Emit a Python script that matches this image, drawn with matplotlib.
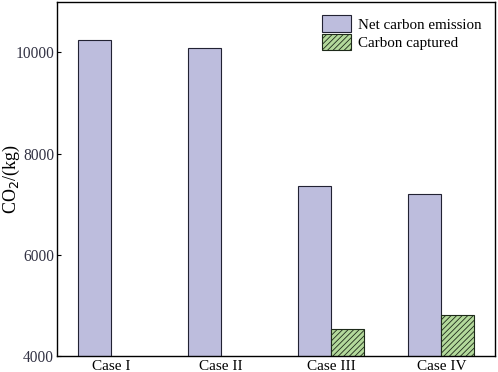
import matplotlib
matplotlib.use("Agg")
import matplotlib.pyplot as plt
import numpy as np

# Data
cases = ["Case I", "Case II", "Case III", "Case IV"]
net_emission = [10250, 10080, 7370, 7210]
captured = [0, 0, 4530, 4820]

plt.rcParams['font.family'] = ['Liberation Serif', 'DejaVu Serif']
plt.rcParams['hatch.color'] = '#2f4a2a'
plt.rcParams['hatch.linewidth'] = 0.6

fig = plt.figure(figsize=(4.98, 3.72), dpi=100)
ax = fig.add_axes([0.1145, 0.043, 0.88, 0.952])

x = np.arange(len(cases))
w = 0.3
ax.bar(x - w / 2, net_emission, w, color='#bdbddd', edgecolor='#222233',
       linewidth=0.8, label='Net carbon emission')
ax.bar(x + w / 2, captured, w, color='#b3d99b', edgecolor='#1e2a1a',
       linewidth=0.8, hatch='//////', label='Carbon captured')

ax.set_xlim(-0.49, 3.49)
ax.set_ylim(4000, 11000)
ax.set_yticks([4000, 6000, 8000, 10000])
ax.set_xticks(x)
ax.set_xticklabels(cases)
ax.tick_params(axis='y', direction='in', length=3, labelsize=11.2, labelcolor='#333344', pad=2)
ax.tick_params(axis='x', length=0, labelsize=11, pad=3)
ylab = ax.set_ylabel('CO$_2$/(kg)', fontsize=13, rotation_mode='default',
                     ha='center', va='center')
ax.yaxis.set_label_coords(-0.105, 0.5)
for s in ax.spines.values():
    s.set_linewidth(1.0)

ax.legend(loc='upper right', fontsize=10.8, frameon=False, handlelength=1.9,
          handleheight=1.3, borderaxespad=0.5, labelspacing=0.12, handletextpad=0.5)

fig.savefig('out.png', dpi=100)
